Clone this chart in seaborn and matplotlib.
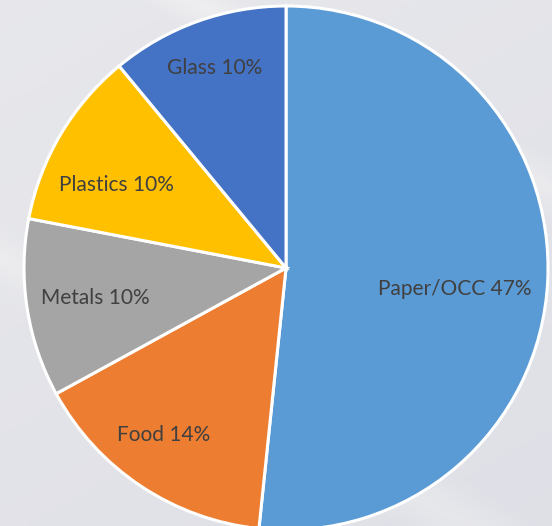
import numpy as np
import matplotlib.pyplot as plt
import seaborn as sns

# data
materials = ["Paper/OCC", "Food", "Metals", "Plastics", "Glass"]
shares = [47, 14, 10, 10, 10]
slice_colors = ["#5B9BD5", "#ED7D31", "#A5A5A5", "#FFC000", "#4472C4"]

# label placement: distance from centre (fraction of radius) and angle nudge (deg)
label_r = [0.65, 0.79, 0.735, 0.72, 0.81]
label_shift = [-4.0, -2.5, 0.0, 4.5, 0.0]

sns.set_theme(style="white")
plt.rcParams["font.family"] = ["Lato", "DejaVu Sans"]

fig = plt.figure(figsize=(5.52, 5.26), dpi=100)
fig.patch.set_facecolor("#e8e9ee")

# soft background with light diagonal bands
bg = fig.add_axes([0, 0, 1, 1])
yy, xx = np.mgrid[0:1:200j, 0:1:200j]
shade = 0.5 + 0.25 * (1 - yy) - 0.15 * xx
band = np.clip(1 - np.abs((yy - 0.55) - 0.6 * (xx - 0.1)) / 0.08, 0, 1)
band2 = np.clip(1 - np.abs((yy - 0.22) - 0.55 * (xx - 0.75)) / 0.06, 0, 1)
img = shade + 0.35 * band + 0.4 * band2
bg.imshow(img, cmap=sns.light_palette("#dcdde5", reverse=True, as_cmap=True),
          extent=[0, 1, 0, 1], aspect="auto", vmin=0.2, vmax=1.2, origin="upper")
bg.axis("off")

ax = fig.add_axes([0.0435, -0.0076, 0.9493, 0.9962])
wedges, _ = ax.pie(shares, colors=sns.color_palette(slice_colors), startangle=90,
                   counterclock=False, radius=1.0,
                   wedgeprops=dict(edgecolor="white", linewidth=2.2))

for w, name, val, r, d in zip(wedges, materials, shares, label_r, label_shift):
    mid = np.deg2rad((w.theta1 + w.theta2) / 2 + d)
    ax.text(r * np.cos(mid), r * np.sin(mid), f"{name} {val}%",
            ha="center", va="center", fontsize=15, color="#404040")

ax.set_xlim(-1.0, 1.0)
ax.set_ylim(-1.0, 1.0)
ax.set_aspect("equal")
ax.axis("off")

plt.savefig("out.png", dpi=100, facecolor=fig.get_facecolor())
plt.close()
